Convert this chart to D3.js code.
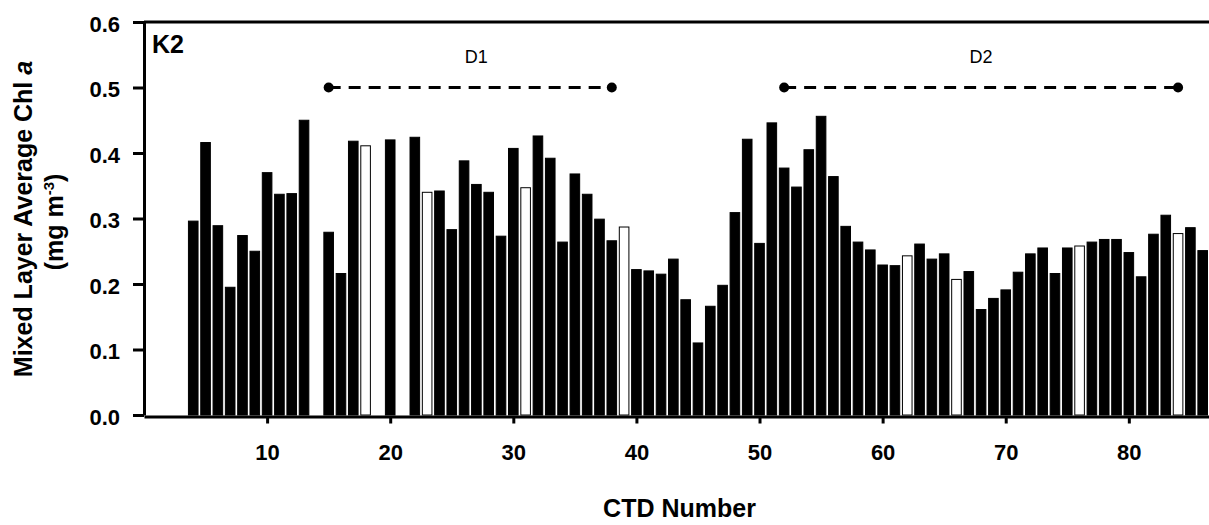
<!DOCTYPE html>
<html>
<head>
<meta charset="utf-8">
<script src="https://cdn.jsdelivr.net/npm/d3@7"></script>
<style>
  body { margin: 0; background: #fff; }
  svg { display: block; font-family: "Liberation Sans", Arial, sans-serif; }
  .axis path, .axis line { stroke: #000; stroke-width: 3; }
  .axis text { font-size: 22px; font-weight: bold; fill: #000; }
</style>
</head>
<body>
<div id="chart"></div>
<script>
// CTD casts and mixed layer average Chl a (mg m-3)
var ctdNumbers = [4, 5, 6, 7, 8, 9, 10, 11, 12, 13, 15, 16, 17, 18, 20, 22, 23, 24, 25, 26,
  27, 28, 29, 30, 31, 32, 33, 34, 35, 36, 37, 38, 39, 40, 41, 42, 43, 44, 45, 46,
  47, 48, 49, 50, 51, 52, 53, 54, 55, 56, 57, 58, 59, 60, 61, 62, 63, 64, 65, 66,
  67, 68, 69, 70, 71, 72, 73, 74, 75, 76, 77, 78, 79, 80, 81, 82, 83, 84, 85, 86];
var chlValues = [0.296, 0.416, 0.289, 0.195, 0.274, 0.250, 0.370, 0.337, 0.338, 0.450,
  0.279, 0.216, 0.418, 0.411, 0.420, 0.424, 0.340, 0.342, 0.283, 0.388,
  0.352, 0.340, 0.273, 0.407, 0.347, 0.426, 0.392, 0.264, 0.368, 0.337,
  0.299, 0.266, 0.287, 0.222, 0.220, 0.215, 0.238, 0.176, 0.110, 0.166,
  0.198, 0.309, 0.421, 0.262, 0.446, 0.377, 0.348, 0.405, 0.456, 0.364,
  0.288, 0.264, 0.252, 0.229, 0.228, 0.243, 0.261, 0.238, 0.246, 0.207,
  0.219, 0.161, 0.178, 0.191, 0.218, 0.246, 0.255, 0.216, 0.255, 0.258,
  0.264, 0.268, 0.268, 0.248, 0.211, 0.276, 0.305, 0.277, 0.286, 0.251];
// casts drawn as open bars
var openBars = [18, 23, 31, 39, 62, 66, 76, 84];

// deployment periods
var periodNames = ["D1", "D2"];
var periodStart = [15, 52];
var periodEnd = [38, 84];
var periodLevel = [0.5, 0.5];
var periodLabelX = [27, 68];

var xTicks = [10, 20, 30, 40, 50, 60, 70, 80];
var yTicks = [0, 0.1, 0.2, 0.3, 0.4, 0.5, 0.6];

var width = 1209, height = 525;

var svg = d3.select("#chart")
  .append("svg")
  .attr("width", width)
  .attr("height", height);

var xScale = d3.scaleLinear().domain([0, 87]).range([144, 1215]);
var yScale = d3.scaleLinear().domain([0, 0.6]).range([415, 22]);

var step = xScale(1) - xScale(0);
var barW = step * 0.78;

var data = ctdNumbers.map(function (n, i) {
  return { ctd: n, v: chlValues[i], open: openBars.indexOf(n) >= 0 };
});

// bars
svg.append("g")
  .selectAll("rect")
  .data(data)
  .enter()
  .append("rect")
  .attr("x", function (d) { return xScale(d.ctd) - barW / 2; })
  .attr("y", function (d) { return yScale(d.v); })
  .attr("width", barW)
  .attr("height", function (d) { return yScale(0) - yScale(d.v); })
  .attr("fill", function (d) { return d.open ? "#fff" : "#000"; })
  .attr("stroke", "#000")
  .attr("stroke-width", 1);

// top frame
svg.append("line")
  .attr("x1", xScale(0)).attr("x2", width)
  .attr("y1", yScale(0.6)).attr("y2", yScale(0.6))
  .attr("stroke", "#000").attr("stroke-width", 3);

// axes
var yAxis = d3.axisLeft(yScale)
  .tickValues(yTicks)
  .tickFormat(d3.format(".1f"))
  .tickSize(11)
  .tickSizeOuter(0)
  .tickPadding(13);

svg.append("g")
  .attr("class", "axis")
  .attr("transform", "translate(" + xScale(0) + ",0)")
  .call(yAxis)
  .selectAll("text").attr("dy", "0.42em");

var xAxis = d3.axisBottom(xScale)
  .tickValues(xTicks)
  .tickSize(7)
  .tickSizeOuter(0)
  .tickPadding(21);

svg.append("g")
  .attr("class", "axis")
  .attr("transform", "translate(0," + (yScale(0) + 1.5) + ")")
  .call(xAxis);

// deployment markers
var periods = periodNames.map(function (p, i) {
  return { name: p, s: periodStart[i], e: periodEnd[i], lev: periodLevel[i], lx: periodLabelX[i] };
});

var pg = svg.append("g").selectAll("g").data(periods).enter().append("g");
pg.append("line")
  .attr("x1", function (d) { return xScale(d.s); })
  .attr("x2", function (d) { return xScale(d.e); })
  .attr("y1", function (d) { return yScale(d.lev); })
  .attr("y2", function (d) { return yScale(d.lev); })
  .attr("stroke", "#000")
  .attr("stroke-width", 3)
  .attr("stroke-dasharray", "12,8");
pg.selectAll("circle")
  .data(function (d) { return [{ x: d.s, y: d.lev }, { x: d.e, y: d.lev }]; })
  .enter()
  .append("circle")
  .attr("cx", function (d) { return xScale(d.x); })
  .attr("cy", function (d) { return yScale(d.y); })
  .attr("r", 5)
  .attr("fill", "#000");
pg.append("text")
  .attr("x", function (d) { return xScale(d.lx); })
  .attr("y", function (d) { return yScale(d.lev) - 25; })
  .attr("text-anchor", "middle")
  .style("font-size", "18px")
  .text(function (d) { return d.name; });

// panel label
svg.append("text")
  .attr("x", 152)
  .attr("y", 53)
  .style("font-size", "25px")
  .style("font-weight", "bold")
  .text("K2");

// axis titles
svg.append("text")
  .attr("x", (xScale(0) + xScale(87)) / 2)
  .attr("y", 517)
  .attr("text-anchor", "middle")
  .style("font-size", "25px")
  .style("font-weight", "bold")
  .text("CTD Number");

var yt = svg.append("text")
  .attr("transform", "translate(32," + 219 + ") rotate(-90)")
  .attr("text-anchor", "middle")
  .style("font-size", "25px")
  .style("font-weight", "bold");
yt.append("tspan").text("Mixed Layer Average Chl ");
yt.append("tspan").style("font-style", "italic").text("a");

var yt2 = svg.append("text")
  .attr("transform", "translate(63," + 222 + ") rotate(-90)")
  .attr("text-anchor", "middle")
  .style("font-size", "25px")
  .style("font-weight", "bold");
yt2.append("tspan").text("(mg m");
yt2.append("tspan").attr("dy", -9).style("font-size", "15px").text("-3");
yt2.append("tspan").attr("dy", 9).text(")");
</script>
</body>
</html>
